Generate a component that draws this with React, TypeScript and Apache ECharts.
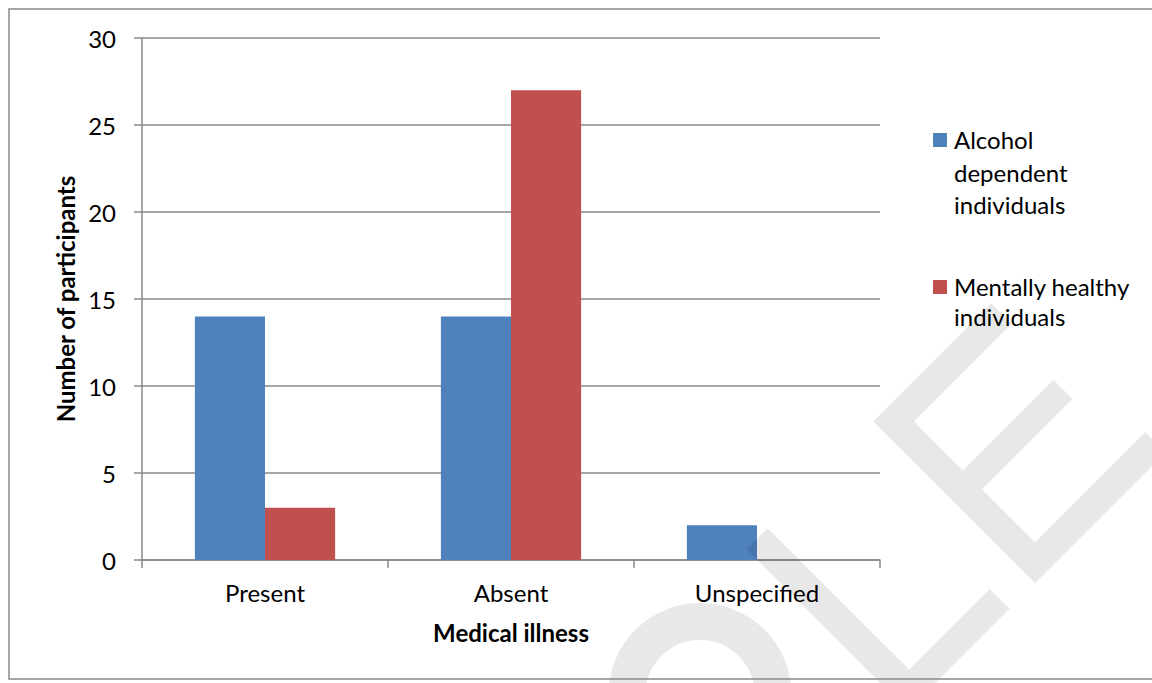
import React, { useEffect, useRef } from "react";
import * as echarts from "echarts";

// Participants grouped by reported medical illness
const categories = ["Present", "Absent", "Unspecified"];
const seriesNames = ["Alcohol dependent individuals", "Mentally healthy individuals"];
const alcoholDependent = [14, 14, 2];
const mentallyHealthy = [3, 27, 0];

// Legend lines (wrapped as in the legend box)
const legendLines = [
  ["Alcohol", "dependent", "individuals"],
  ["Mentally healthy", "individuals"],
];

const BLUE = "#4F81BD";
const RED = "#C0504D";
const AXIS_GRAY = "#898989";
const FONT = "Lato";
const MARK = "rgba(0,0,0,0.09)";

export default function App() {
  const ref = useRef<HTMLDivElement>(null);

  useEffect(() => {
    document.body.style.margin = "0";
    const chart = echarts.init(ref.current!, null, { renderer: "svg" });

    const colors = [BLUE, RED];
    const legendGraphics: any[] = [];
    const legendTops = [133, 280];
    const legendBaselines = [
      [148, 181, 213],
      [295, 325],
    ];
    legendLines.forEach((lines, i) => {
      legendGraphics.push({
        type: "rect",
        shape: { x: 933, y: legendTops[i], width: 14, height: 14 },
        style: { fill: colors[i] },
      });
      lines.forEach((line, j) => {
        legendGraphics.push({
          type: "text",
          x: 954,
          y: legendBaselines[i][j] - 9,
          style: {
            text: line,
            fill: "#000",
            font: `24px ${FONT}`,
            verticalAlign: "middle",
            align: "left",
          },
        });
      });
    });

    // Diagonal "SAMPLE" stamp fragments across the lower right, drawn above the bars
    const stamp = [
      {
        type: "group",
        x: 1035,
        y: 583.3,
        rotation: Math.PI / 4,
        z: 50,
        children: [
          {
            type: "polygon",
            z: 50,
            shape: {
              points: [
                [0, 0], [185, 0], [185, -29], [29, -29], [29, -104], [157, -104],
                [157, -131], [29, -131], [29, -200], [167, -200], [167, -229], [0, -229],
              ],
            },
            style: { fill: MARK },
          },
          {
            type: "polygon",
            z: 50,
            shape: {
              points: [
                [-180, 0], [-36, 0], [-36, -28], [-150, -28], [-150, -228], [-180, -228],
              ],
            },
            style: { fill: MARK },
          },
        ],
      },
      {
        type: "arc",
        z: 50,
        shape: { cx: 700, cy: 694.5, r: 73, startAngle: Math.PI, endAngle: Math.PI * 2, clockwise: true },
        style: { stroke: MARK, lineWidth: 37, fill: null },
      },
    ];

    chart.setOption({
      animation: false,
      backgroundColor: "#fff",
      textStyle: { fontFamily: FONT },
      grid: { left: 142, right: 272, top: 38, bottom: 123, containLabel: false },
      xAxis: {
        type: "category",
        data: categories,
        name: "Medical illness",
        nameLocation: "middle",
        nameGap: 60,
        nameTextStyle: { fontFamily: FONT, fontSize: 24, fontWeight: "bold", color: "#000" },
        axisLine: { show: true, lineStyle: { color: AXIS_GRAY, width: 1.5 } },
        axisTick: { show: true, alignWithLabel: false, length: 8, lineStyle: { color: AXIS_GRAY, width: 1.5 } },
        axisLabel: { fontFamily: FONT, fontSize: 24, color: "#000", margin: 20 },
        splitLine: { show: false },
      },
      yAxis: {
        type: "value",
        min: 0,
        max: 30,
        interval: 5,
        name: "Number of participants",
        nameLocation: "middle",
        nameGap: 64,
        nameTextStyle: { fontFamily: FONT, fontSize: 24, fontWeight: "bold", color: "#000" },
        axisLine: { show: true, lineStyle: { color: AXIS_GRAY, width: 1.5 } },
        axisTick: { show: true, length: 8, lineStyle: { color: AXIS_GRAY, width: 1.5 } },
        axisLabel: { fontFamily: FONT, fontSize: 24, color: "#000", margin: 26 },
        splitLine: { show: true, lineStyle: { color: AXIS_GRAY, width: 1.5 } },
      },
      series: [
        {
          name: seriesNames[0],
          type: "bar",
          data: alcoholDependent,
          itemStyle: { color: BLUE },
          barGap: "0%",
          barCategoryGap: "43%",
        },
        {
          name: seriesNames[1],
          type: "bar",
          data: mentallyHealthy,
          itemStyle: { color: RED },
          barGap: "0%",
          barCategoryGap: "43%",
        },
      ],
      graphic: [
        ...legendGraphics,
        ...stamp,
        {
          type: "rect",
          z: 60,
          shape: { x: 9, y: 9, width: 1160, height: 670 },
          style: { fill: null, stroke: AXIS_GRAY, lineWidth: 1.5 },
        },
      ],
    });

    return () => chart.dispose();
  }, []);

  return <div ref={ref} style={{ width: 1152, height: 683 }} />;
}
